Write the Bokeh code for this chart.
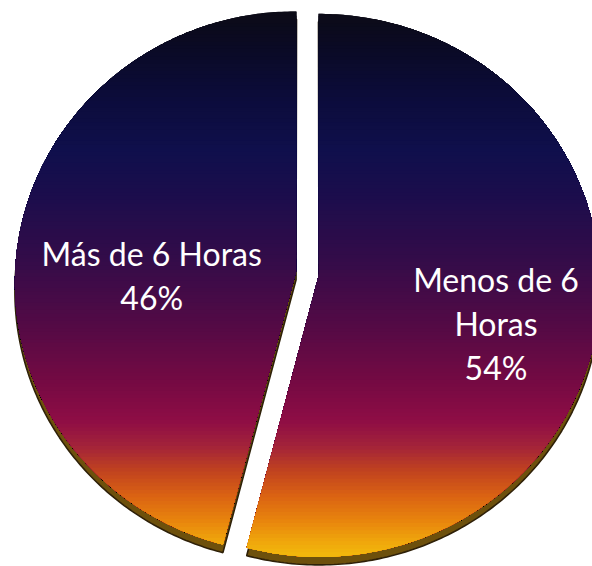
import numpy as np
from bokeh.plotting import figure
from bokeh.models import ColumnDataSource, Range1d
from bokeh.core.properties import value
from bokeh.embed import file_html
from bokeh.resources import INLINE

# ---------------- data ----------------
categories = ["Menos de 6 Horas", "Más de 6 Horas"]
values = [54, 46]
label_lines = [["Menos de 6", "Horas"], ["Más de 6 Horas"]]

# ---------------- style / layout constants ----------------
W, H = 592, 566
R = 281.0             # horizontal radius in pixels (1 data unit)
RY = 271.0            # vertical radius in pixels
CX, CY = 307.0, 272.6 # pie centre on the page (pixels from top-left)
PERSP = 0.04          # perspective: far (top) side smaller, near side larger
EXPL = 0.041          # explosion distance (radius units)
THICK = 8.0 / R       # visible thickness of the 3D pie
LABEL_R = [0.64, 0.505]
LABEL_NUDGE = [(-2, 27), (-4, 21)]   # px (x right, y down)
LINE_H = 44

grad_y = [12, 50, 100, 150, 200, 260, 330, 380, 420, 445, 470, 495, 520, 540, 555]
grad_c = ["#0c0b16", "#0a0a26", "#0c0c3c", "#0f0f4c", "#1d0d4c", "#340c49",
          "#560a45", "#740a43", "#8e0d45", "#a2223a", "#c0421f", "#da6213",
          "#e8840d", "#efa50c", "#f2b80c"]


def hex2rgb(h):
    h = h.lstrip("#")
    return np.array([int(h[i:i + 2], 16) for i in (0, 2, 4)], dtype=float)


grad_rgb = np.array([hex2rgb(c) for c in grad_c])


def colour_at_screen_y(ys):
    r = np.interp(ys, grad_y, grad_rgb[:, 0])
    g = np.interp(ys, grad_y, grad_rgb[:, 1])
    b = np.interp(ys, grad_y, grad_rgb[:, 2])
    return "#%02x%02x%02x" % (int(round(r)), int(round(g)), int(round(b)))


def data_y_to_screen(y):
    return CY - y * R


def project(X, Y):
    """disk coords (X right, Y away from viewer) -> data coords"""
    g = 1.0 / (1.0 + PERSP * Y)
    return X * g, Y * (RY / R) * g


def clip_below(poly, c):
    out = []
    n = len(poly)
    for i in range(n):
        x1, y1 = poly[i]
        x2, y2 = poly[(i + 1) % n]
        in1 = y1 <= c
        in2 = y2 <= c
        if in1:
            out.append((x1, y1))
        if in1 != in2:
            t = (c - y1) / (y2 - y1)
            out.append((x1 + t * (x2 - x1), c))
    return out


total = float(sum(values))
starts, ends, mids = [], [], []
acc = 0.0
for v in values:
    a0 = acc / total * 2 * np.pi
    acc += v
    a1 = acc / total * 2 * np.pi
    starts.append(a0)
    ends.append(a1)
    mids.append((a0 + a1) / 2)

polys = []
for a0, a1, am in zip(starts, ends, mids):
    ox = EXPL * np.sin(am)
    oy = EXPL * np.cos(am)
    t = np.linspace(a0, a1, 260)
    pts = [project(ox, oy)] + [project(ox + np.sin(tt), oy + np.cos(tt)) for tt in t]
    polys.append(pts)

p = figure(width=W, height=H,
           x_range=Range1d(-CX / R, (W - CX) / R),
           y_range=Range1d(-(H - CY) / R, CY / R),
           output_backend="svg", toolbar_location=None,
           x_axis_location=None, y_axis_location=None,
           min_border=0, outline_line_color=None)
p.grid.visible = False
p.background_fill_color = "white"
p.border_fill_color = "white"

# 3D side (thickness) drawn beneath the top faces
side_xs = [[x for x, y in pts] for pts in polys]
side_ys = [[y - THICK for x, y in pts] for pts in polys]
p.patches(side_xs, side_ys, fill_color="#6d500c", line_color="#2e2008",
          line_width=1.6)

# top faces with vertical gradient (stacked layers)
ymax = max(y for pts in polys for x, y in pts) + 0.01
ymin = min(y for pts in polys for x, y in pts) - 0.01
NB = 150
levels = np.linspace(ymax, ymin, NB + 1)
xs, ys, cols = [], [], []
for pts in polys:
    for j in range(NB):
        c = levels[j]
        cl = clip_below(pts, c)
        if len(cl) < 3:
            continue
        mid_y = c - (levels[0] - levels[1]) / 2
        xs.append([q[0] for q in cl])
        ys.append([q[1] for q in cl])
        cols.append(colour_at_screen_y(data_y_to_screen(mid_y)))
src = ColumnDataSource(dict(xs=xs, ys=ys, c=cols))
p.patches("xs", "ys", source=src, fill_color="c", line_color=None)

# labels
tx, ty, tt, txo, tyo = [], [], [], [], []
for i, v in enumerate(values):
    am = mids[i]
    ox = EXPL * np.sin(am) + LABEL_R[i] * np.sin(am)
    oy = EXPL * np.cos(am) + LABEL_R[i] * np.cos(am)
    lx, ly = project(ox, oy)
    lines = label_lines[i] + ["%d%%" % round(v / total * 100)]
    n = len(lines)
    for k, line in enumerate(lines):
        tx.append(lx)
        ty.append(ly)
        tt.append(line)
        txo.append(LABEL_NUDGE[i][0])
        tyo.append(LABEL_NUDGE[i][1] + (k - (n - 1) / 2) * LINE_H)
lsrc = ColumnDataSource(dict(x=tx, y=ty, t=tt, xo=txo, yo=tyo))
p.text("x", "y", text="t", x_offset="xo", y_offset="yo", source=lsrc,
       text_color="white", text_font=value("Lato"), text_font_size="32px",
       text_align="center", text_baseline="middle")

open("out.html", "w").write(file_html(p, INLINE))
